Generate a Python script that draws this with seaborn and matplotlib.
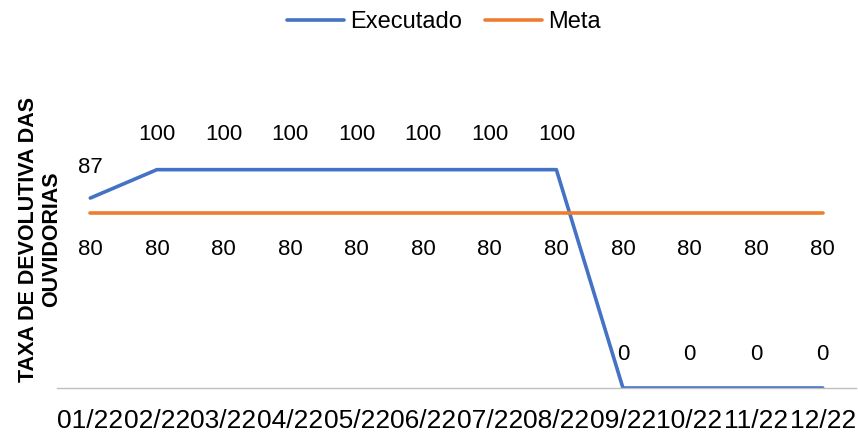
import matplotlib
matplotlib.use("Agg")
import matplotlib.pyplot as plt
import seaborn as sns
import pandas as pd

meses = ["01/22", "02/22", "03/22", "04/22", "05/22", "06/22",
         "07/22", "08/22", "09/22", "10/22", "11/22", "12/22"]
executado = [87, 100, 100, 100, 100, 100, 100, 100, 0, 0, 0, 0]
meta = [80] * 12

df = pd.DataFrame({
    "mes": meses * 2,
    "valor": executado + meta,
    "serie": ["Executado"] * 12 + ["Meta"] * 12,
})

sns.set_style("white")
plt.rcParams["font.family"] = ["Liberation Sans", "DejaVu Sans"]
plt.rcParams["text.color"] = "black"
plt.rcParams["xtick.color"] = "black"

fig = plt.figure(figsize=(8.58, 4.37), dpi=100)
ax = fig.add_axes([57 / 858, 1 - 388 / 437, 799 / 858, 262 / 437])

cores = {"Executado": "#4472C4", "Meta": "#ED7D31"}
sns.lineplot(data=df, x="mes", y="valor", hue="serie", palette=cores,
             linewidth=2.6, sort=False, ax=ax)

ax.set_xlim(-0.5, 11.5)
ax.set_ylim(0, 120)
ax.set_yticks([])
ax.set_xlabel("")
ax.set_ylabel("")
for s in ["top", "right", "left"]:
    ax.spines[s].set_visible(False)
ax.spines["bottom"].set_color("#bfbfbf")
ax.spines["bottom"].set_linewidth(1)
ax.tick_params(axis="x", length=0, pad=15, labelsize=19, labelcolor="black")

# rótulos de dados
for i, v in enumerate(executado):
    off = 22 if i == 0 else (25 if v == 100 else 24)
    ax.annotate(str(v), (i, v), textcoords="offset points", xytext=(0, off),
                ha="center", va="center", fontsize=16, color="black")
for i, v in enumerate(meta):
    ax.annotate(str(v), (i, v), textcoords="offset points", xytext=(0, -26),
                ha="center", va="center", fontsize=16, color="black")

fig.text(40 / 858, 1 - 239 / 437, "TAXA DE DEVOLUTIVA DAS\nOUVIDORIAS",
         rotation=90, ha="center", va="center", fontsize=15.5,
         fontweight="bold", linespacing=1.1, color="black")

h, l = ax.get_legend_handles_labels()
leg = ax.legend(h, l, loc="center", bbox_to_anchor=(444 / 858, 1 - 22 / 437),
                bbox_transform=fig.transFigure, ncol=2, frameon=False,
                fontsize=17, handlelength=2.4, handletextpad=0.25,
                columnspacing=1.0)
for t in leg.get_texts():
    t.set_color("black")

fig.savefig("out.png", dpi=100)
